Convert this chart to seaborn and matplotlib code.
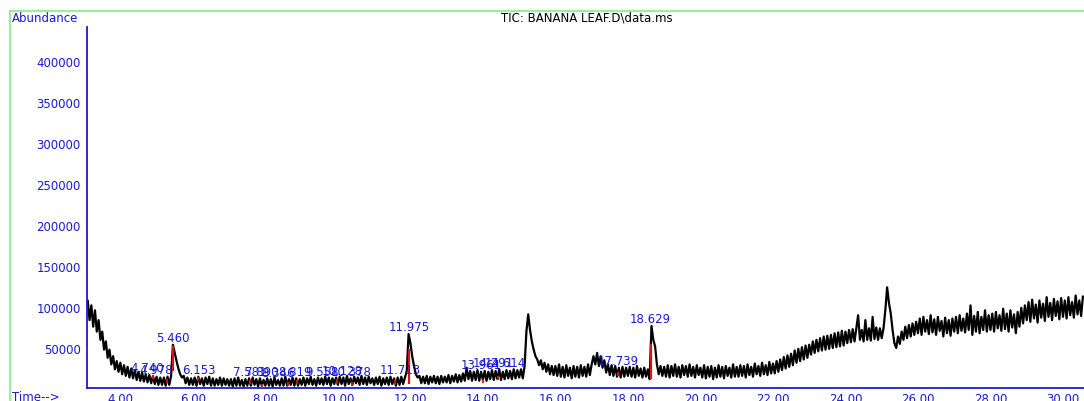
"""
plot.py

Recreates the TIC chromatogram of the banana leaf sample (GC-MS export style).
"""

import matplotlib

matplotlib.use("Agg")
import matplotlib.pyplot as plt
import numpy as np
import pandas as pd
import seaborn as sns
from matplotlib.lines import Line2D
from matplotlib.ticker import FixedLocator, MultipleLocator, FuncFormatter

# Abundance, in thousands of counts, one scan every 0.05 min
# starting at 3.10 min (one row per minute)
scan_start = 3.10
scan_step = 0.05
abundance_k = [
    108, 84, 102, 76, 96, 70, 84, 60, 70, 48, 58, 38, 48, 30, 40, 24, 34, 21,  # 3.10
    32, 18, 29, 16, 27, 14, 25, 13, 23, 11, 21, 10, 20, 9, 18, 8, 17, 7, 16, 6,  # 4
    15, 5, 14, 5, 14, 4, 15, 5, 16, 54, 44, 34, 25, 18, 14, 16, 7, 14, 5, 13,  # 5
    5, 14, 4, 15, 6, 13, 4, 14, 6, 15, 4, 13, 4, 12, 5, 14, 4, 13, 5, 12,  # 6
    4, 12, 3, 13, 4, 14, 4, 11, 3, 12, 4, 13, 4, 14, 5, 12, 3, 13, 4, 11,  # 7
    4, 13, 4, 12, 3, 14, 5, 11, 4, 13, 4, 15, 4, 12, 5, 14, 4, 13, 4, 12,  # 8
    5, 14, 4, 13, 6, 15, 5, 12, 4, 14, 6, 13, 5, 15, 6, 14, 4, 13, 6, 14,  # 9
    5, 15, 6, 14, 4, 16, 6, 13, 5, 15, 7, 14, 5, 16, 6, 14, 5, 15, 7, 13,  # 10
    5, 14, 6, 15, 4, 13, 6, 14, 5, 15, 6, 13, 4, 14, 5, 15, 6, 14, 22, 67,  # 11
    56, 40, 28, 18, 14, 16, 7, 15, 7, 16, 6, 15, 8, 16, 7, 15, 6, 16, 8, 15,  # 12
    8, 17, 7, 16, 9, 18, 8, 17, 9, 19, 10, 26, 12, 22, 10, 21, 11, 23, 10, 21,  # 13
    11, 22, 10, 21, 12, 23, 11, 22, 12, 24, 11, 21, 12, 23, 13, 22, 12, 24, 13, 23,  # 14
    14, 24, 13, 28, 70, 91, 72, 58, 48, 40, 36, 29, 35, 24, 32, 21, 30, 18, 28, 17,  # 15
    28, 16, 30, 15, 27, 14, 29, 16, 26, 13, 28, 15, 27, 14, 29, 16, 27, 15, 30, 17,  # 16
    30, 40, 30, 44, 28, 40, 26, 35, 20, 30, 17, 29, 16, 28, 15, 26, 14, 27, 15, 26,  # 17
    16, 27, 15, 26, 14, 28, 16, 25, 14, 26, 15, 24, 12, 77, 60, 52, 30, 18, 28, 16,  # 18
    27, 15, 29, 14, 28, 16, 30, 15, 27, 14, 29, 17, 28, 15, 30, 16, 27, 14, 29, 17,  # 19
    26, 14, 29, 13, 27, 15, 28, 12, 26, 14, 29, 15, 27, 13, 28, 16, 26, 14, 30, 15,  # 20
    27, 15, 29, 16, 28, 14, 30, 17, 27, 15, 31, 18, 28, 16, 32, 18, 29, 17, 33, 19,  # 21
    31, 19, 34, 21, 36, 23, 39, 25, 41, 27, 43, 29, 47, 32, 49, 34, 51, 36, 53, 38,  # 22
    54, 42, 58, 44, 60, 46, 62, 47, 64, 48, 65, 49, 66, 50, 68, 51, 69, 52, 71, 53,  # 23
    70, 56, 72, 57, 73, 58, 74, 90, 60, 72, 58, 84, 60, 74, 59, 88, 61, 75, 60, 74,  # 24
    62, 74, 96, 124, 105, 92, 72, 56, 50, 64, 55, 70, 60, 76, 62, 78, 64, 80, 66, 82,  # 25
    68, 86, 66, 88, 70, 84, 67, 90, 69, 85, 66, 88, 71, 83, 64, 87, 68, 84, 65, 86,  # 26
    70, 88, 68, 90, 71, 86, 69, 92, 72, 102, 66, 89, 70, 94, 68, 88, 72, 96, 70, 90,  # 27
    72, 92, 70, 94, 74, 90, 71, 98, 73, 92, 70, 96, 75, 91, 68, 94, 76, 99, 80, 102,  # 28
    84, 106, 82, 109, 86, 103, 81, 108, 87, 104, 83, 112, 88, 105, 84, 110, 89, 107, 85, 111,  # 29
    88, 108, 86, 112, 90, 106, 87, 114, 91, 108, 89, 113,  # 30
]

# Integrated peak labels (retention times, min)
peak_labels = [
    "4.740", "4.978", "5.460", "6.153", "7.581", "7.890", "8.346", "8.819",
    "9.558", "10.128", "10.378", "11.713", "11.975", "13.961", "14.291",
    "14.614", "17.739", "18.629",
]
peak_times = [float(p) for p in peak_labels]

# Red integration marks: small ticks on the baseline and segments on big peaks
baseline_mark_times = [4.90, 5.28, 6.14, 7.57, 7.90, 8.62, 8.87, 9.97, 10.39,
                       11.57, 14.00, 14.41, 17.72]
apex_mark_times = [5.46, 11.975, 18.629]
apex_mark_low_k = [22, 6, 12]
apex_mark_high_k = [52, 49, 55]

x_major_ticks = [4, 6, 8, 10, 12, 14, 16, 18, 20, 22, 24, 26, 28, 30]
y_major_ticks = [50000, 100000, 150000, 200000, 250000, 300000, 350000, 400000]

BLUE = "#1a1ad0"
RED = "#e01010"
GREEN = "#8ef08e"
W, H = 1084, 402

sns.set_style("white")
plt.rcParams["font.family"] = ["DejaVu Sans"]

df = pd.DataFrame(
    {
        "time": np.round(scan_start + scan_step * np.arange(len(abundance_k)), 2),
        "abundance": np.array(abundance_k) * 1000,
    }
)

fig = plt.figure(figsize=(W / 100, H / 100), dpi=100)
ax = fig.add_axes([87 / W, (H - 389) / H, (W - 87) / W, (389 - 28) / H])

sns.lineplot(
    data=df, x="time", y="abundance", ax=ax, color="black",
    linewidth=1.6, estimator=None, sort=False,
)

# Red integration marks
mark_vals = np.interp(baseline_mark_times, df["time"], df["abundance"])
ax.vlines(baseline_mark_times, mark_vals - 3500, mark_vals + 1500,
          color=RED, linewidth=1.3, zorder=4)
ax.vlines(apex_mark_times, np.array(apex_mark_low_k) * 1000,
          np.array(apex_mark_high_k) * 1000, color=RED, linewidth=1.6, zorder=4)

# Retention-time labels above each integrated peak
for label, rt in zip(peak_labels, peak_times):
    near = df[(df["time"] - rt).abs() <= 0.05]["abundance"].max()
    ax.annotate(label, xy=(rt, near), xytext=(0, 0.5), textcoords="offset points",
                ha="center", va="bottom", color=BLUE, fontsize=8.5, zorder=5)

ax.set_xlim(3.08, 30.58)
ax.set_ylim(1200, 441600)
ax.set_xlabel("")
ax.set_ylabel("")

ax.xaxis.set_major_locator(FixedLocator(x_major_ticks))
ax.xaxis.set_minor_locator(MultipleLocator(0.4))
ax.xaxis.set_major_formatter(FuncFormatter(lambda v, p: f"{v:.2f}"))
ax.yaxis.set_major_locator(FixedLocator(y_major_ticks))
ax.yaxis.set_minor_locator(MultipleLocator(10000))
ax.yaxis.set_major_formatter(FuncFormatter(lambda v, p: f"{int(v)}"))

ax.tick_params(axis="x", which="both", direction="in", colors=BLUE,
               labelsize=8.5, pad=3)
ax.tick_params(axis="x", which="major", length=5, width=1.2)
ax.tick_params(axis="x", which="minor", length=3, width=1.0)
ax.tick_params(axis="y", which="both", direction="out", colors=BLUE,
               labelsize=8.5, pad=0.5)
ax.tick_params(axis="y", which="major", length=4, width=1.2)
ax.tick_params(axis="y", which="minor", length=2.5, width=1.0)

for side in ["top", "right"]:
    ax.spines[side].set_visible(False)
for side in ["left", "bottom"]:
    ax.spines[side].set_color(BLUE)
    ax.spines[side].set_linewidth(1.3)
ax.patch.set_alpha(0)

# Green frame of the exported window
fig.add_artist(Line2D([10 / W, 1], [1 - 12 / H, 1 - 12 / H], color=GREEN, lw=1.3))
fig.add_artist(Line2D([10 / W, 10 / W], [0, 1 - 12 / H], color=GREEN, lw=1.3))

fig.text(12 / W, 1 - 18 / H, "Abundance", color=BLUE, fontsize=8.5,
         ha="left", va="center")
fig.text(587 / W, 1 - 18 / H, "TIC: BANANA LEAF.D\\data.ms", color="black",
         fontsize=8.5, ha="center", va="center")
fig.text(12 / W, 1 - 398 / H, "Time-->", color=BLUE, fontsize=8.5,
         ha="left", va="center")

fig.savefig("out.png", dpi=100)
